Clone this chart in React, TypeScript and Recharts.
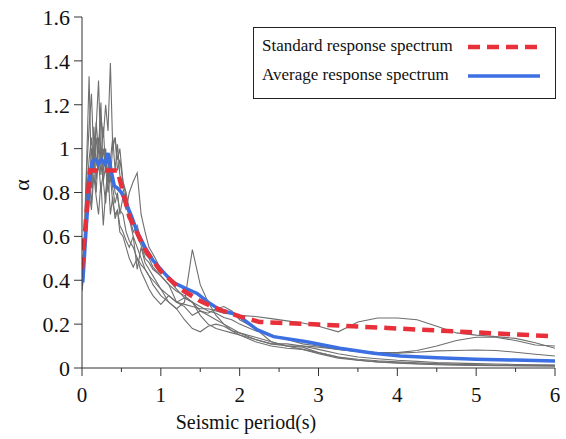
import { LineChart, Line, XAxis, YAxis, Legend } from 'recharts'

// shared period grid of the individual records (s)
const recordPeriods = [
  0, 0.03, 0.06, 0.09, 0.12, 0.15, 0.18, 0.21, 0.24, 0.27,
  0.3, 0.33, 0.36, 0.39, 0.42, 0.45, 0.48, 0.52, 0.56, 0.6,
  0.65, 0.7, 0.75, 0.8, 0.85, 0.9, 1.0, 1.1, 1.2, 1.3,
  1.4, 1.5, 1.6, 1.7, 1.8, 1.9, 2.0, 2.2, 2.4, 2.6,
  2.8, 3.0, 3.25, 3.5, 3.75, 4.0, 4.25, 4.5, 4.75, 5.0,
  5.25, 5.5, 5.75, 6.0,
]

const record1 = [
  0.38, 0.62, 0.95, 1.33, 0.85, 1.1, 0.92, 1.05, 0.88, 1.0,
  0.9, 0.95, 0.85, 0.88, 0.8, 0.78, 0.72, 0.7, 0.62, 0.58,
  0.55, 0.5, 0.47, 0.45, 0.42, 0.4, 0.36, 0.33, 0.3, 0.29,
  0.28, 0.27, 0.27, 0.26, 0.25, 0.245, 0.24, 0.235, 0.225, 0.215,
  0.205, 0.19, 0.165, 0.21, 0.228, 0.228, 0.22, 0.19, 0.16, 0.15,
  0.143, 0.135, 0.115, 0.09,
]
const record2 = [
  0.36, 0.5, 0.8, 0.95, 1.05, 0.9, 1.12, 0.98, 1.15, 1.05,
  1.2, 1.08, 1.39, 1.0, 1.05, 0.95, 1.0, 0.85, 0.8, 0.72,
  0.68, 0.6, 0.56, 0.5, 0.48, 0.45, 0.42, 0.38, 0.35, 0.33,
  0.3, 0.28, 0.26, 0.25, 0.23, 0.22, 0.2, 0.17, 0.15, 0.13,
  0.11, 0.1, 0.085, 0.075, 0.07, 0.07, 0.08, 0.1, 0.125, 0.14,
  0.14, 0.125, 0.105, 0.1,
]
const record3 = [
  0.4, 0.55, 0.85, 0.78, 1.0, 0.92, 1.1, 1.31, 0.95, 1.1,
  0.9, 0.98, 0.88, 0.82, 0.75, 0.8, 0.7, 0.78, 0.72, 0.8,
  0.85, 0.89, 0.7, 0.62, 0.55, 0.52, 0.45, 0.4, 0.36, 0.32,
  0.3, 0.26, 0.24, 0.22, 0.2, 0.18, 0.16, 0.13, 0.11, 0.1,
  0.1, 0.095, 0.085, 0.075, 0.07, 0.068, 0.072, 0.078, 0.08, 0.082,
  0.08, 0.072, 0.063, 0.055,
]
const record4 = [
  0.42, 0.58, 0.9, 1.1, 1.25, 0.95, 1.05, 0.9, 1.0, 0.85,
  0.92, 0.8, 0.88, 0.75, 0.7, 0.72, 0.65, 0.62, 0.58, 0.55,
  0.6, 0.45, 0.55, 0.48, 0.45, 0.42, 0.36, 0.3, 0.27, 0.3,
  0.54, 0.38, 0.3, 0.24, 0.2, 0.17, 0.15, 0.12, 0.1, 0.09,
  0.085, 0.07, 0.05, 0.035, 0.028, 0.022, 0.018, 0.015, 0.013, 0.012,
  0.01, 0.01, 0.009, 0.008,
]
const record5 = [
  0.35, 0.45, 0.7, 0.85, 0.75, 0.95, 0.8, 1.0, 1.21, 0.85,
  0.75, 0.9, 0.7, 0.78, 0.68, 0.72, 0.62, 0.6, 0.55, 0.5,
  0.46, 0.5, 0.44, 0.4, 0.36, 0.33, 0.29, 0.33, 0.3, 0.28,
  0.24, 0.26, 0.25, 0.27, 0.28, 0.26, 0.22, 0.18, 0.12, 0.1,
  0.095, 0.07, 0.05, 0.04, 0.033, 0.028, 0.024, 0.02, 0.017, 0.015,
  0.014, 0.013, 0.012, 0.012,
]
const record6 = [
  0.37, 0.5, 0.68, 0.8, 0.72, 0.88, 0.78, 0.7, 0.85, 0.65,
  0.8, 0.92, 0.85, 1.02, 1.05, 0.9, 0.95, 0.85, 0.78, 0.7,
  0.62, 0.65, 0.58, 0.52, 0.5, 0.46, 0.42, 0.38, 0.3, 0.32,
  0.3, 0.24, 0.2, 0.18, 0.17, 0.16, 0.15, 0.13, 0.11, 0.11,
  0.1, 0.085, 0.065, 0.05, 0.042, 0.035, 0.03, 0.025, 0.022, 0.02,
  0.018, 0.016, 0.015, 0.014,
]
const record7 = [
  0.4, 0.52, 0.78, 0.9, 0.82, 1.0, 0.86, 0.95, 0.8, 0.9,
  1.0, 0.85, 0.95, 1.05, 0.9, 1.02, 0.88, 0.82, 0.75, 0.68,
  0.6, 0.55, 0.5, 0.45, 0.42, 0.38, 0.33, 0.3, 0.27, 0.22,
  0.18, 0.165, 0.19, 0.2, 0.19, 0.17, 0.16, 0.14, 0.12, 0.1,
  0.085, 0.065, 0.045, 0.035, 0.028, 0.024, 0.02, 0.018, 0.016, 0.014,
  0.012, 0.011, 0.01, 0.01,
]
const records = [record1, record2, record3, record4, record5, record6, record7]

const standardPeriods = [0, 0.1, 0.45, 0.6, 0.8, 1.0, 1.25, 1.5, 1.75, 2.0, 2.25, 3, 4, 5, 6]
const standardValues = [0.45, 0.9, 0.9, 0.69, 0.54, 0.44, 0.36, 0.305, 0.265, 0.235, 0.21, 0.198, 0.18, 0.162, 0.144]

const averagePeriods = [
  0.01, 0.05, 0.1, 0.13, 0.17, 0.21, 0.25, 0.29, 0.33, 0.37,
  0.41, 0.45, 0.5, 0.55, 0.63, 0.7, 0.8, 0.9, 1.05, 1.16,
  1.3, 1.46, 1.6, 1.75, 1.9, 2.0, 2.22, 2.43, 2.85, 3.27,
  3.7, 4.04, 4.5, 5.0, 5.5, 6.0,
]
const averageValues = [
  0.39, 0.62, 0.88, 0.94, 0.95, 0.93, 0.95, 0.93, 0.98, 0.9,
  0.83, 0.82, 0.8, 0.76, 0.69, 0.62, 0.55, 0.49, 0.43, 0.39,
  0.365, 0.34, 0.3, 0.265, 0.25, 0.235, 0.175, 0.143, 0.12, 0.09,
  0.067, 0.055, 0.047, 0.04, 0.036, 0.032,
]

const xTicks = [0, 0.5, 1, 1.5, 2, 2.5, 3, 3.5, 4, 4.5, 5, 5.5, 6]
const yTicks = [0, 0.2, 0.4, 0.6, 0.8, 1, 1.2, 1.4, 1.6]

const STANDARD = 'Standard response spectrum'
const AVERAGE = 'Average response spectrum'
const RED = '#e8303a'
const BLUE = '#3b6fe2'
const FONT = '"Liberation Serif", "Times New Roman", serif'

const toPoints = (ts: number[], vs: number[]) => ts.map((t, i) => ({ t, v: vs[i] }))

function PeriodTick({ x, y, payload }: any) {
  const v = payload.value
  const major = Number.isInteger(v)
  return (
    <g>
      <line x1={x} x2={x} y1={y} y2={y + (major ? 8 : 4)} stroke="#333" />
      {major && (
        <text x={x} y={y + 34} textAnchor="middle" style={{ fontFamily: FONT, fontSize: 21 }} fill="#111">
          {v}
        </text>
      )}
    </g>
  )
}

function LegendBox() {
  const rows = [
    { name: STANDARD, color: RED, dash: '12 7', top: 19 },
    { name: AVERAGE, color: BLUE, dash: undefined, top: 48 },
  ]
  return (
    <div
      style={{
        position: 'relative',
        width: 303,
        height: 72,
        boxSizing: 'border-box',
        border: '1px solid #222',
        background: '#fff',
        fontFamily: FONT,
        fontSize: 17,
        color: '#111',
      }}
    >
      {rows.map((r) => (
        <div key={r.name}>
          <span style={{ position: 'absolute', left: 8, top: r.top - 11, lineHeight: '20px', whiteSpace: 'nowrap' }}>
            {r.name}
          </span>
          <svg width={72} height={8} style={{ position: 'absolute', left: 214, top: r.top - 4 }}>
            <line x1={0} x2={72} y1={4} y2={4} stroke={r.color} strokeWidth={r.dash ? 4.5 : 3.5} strokeDasharray={r.dash} />
          </svg>
        </div>
      ))}
    </div>
  )
}

export default function App() {
  return (
    <div style={{ position: 'absolute', left: 0, top: 0, width: 566, height: 439, background: '#fff' }}>
      <LineChart width={566} height={439} margin={{ top: 17, right: 11, left: 0, bottom: 0 }}>
        <XAxis
          type="number"
          dataKey="t"
          domain={[0, 6]}
          ticks={xTicks}
          allowDataOverflow
          height={71}
          tickSize={0}
          tickMargin={0}
          tickLine={false}
          tick={<PeriodTick />}
          axisLine={{ stroke: '#333' }}
        />
        <YAxis
          type="number"
          domain={[0, 1.6]}
          ticks={yTicks}
          allowDataOverflow
          width={82}
          tickSize={8}
          tickMargin={4}
          tickLine={{ stroke: '#333' }}
          axisLine={{ stroke: '#333' }}
          tickFormatter={(v: number) => String(Number(v.toFixed(1)))}
          tick={{ fontSize: 22, fill: '#111', style: { fontFamily: FONT } }}
        />
        <Legend
          layout="horizontal"
          verticalAlign="middle"
          align="center"
          wrapperStyle={{ left: 253, top: 27, width: 303, height: 72 }}
          content={() => <LegendBox />}
        />
        {records.map((vals, i) => (
          <Line
            key={`rec${i}`}
            data={toPoints(recordPeriods, vals)}
            dataKey="v"
            name={`Record ${i + 1}`}
            type="linear"
            stroke="#6f6f6f"
            strokeWidth={1.1}
            dot={false}
            isAnimationActive={false}
          />
        ))}
        <Line
          data={toPoints(averagePeriods, averageValues)}
          dataKey="v"
          name={AVERAGE}
          type="linear"
          stroke={BLUE}
          strokeWidth={3.5}
          dot={false}
          isAnimationActive={false}
        />
        <Line
          data={toPoints(standardPeriods, standardValues)}
          dataKey="v"
          name={STANDARD}
          type="linear"
          stroke={RED}
          strokeWidth={4.5}
          strokeDasharray="12 7"
          dot={false}
          isAnimationActive={false}
        />
      </LineChart>
      <div
        style={{
          position: 'absolute',
          left: 22,
          top: 185,
          transform: 'translate(-50%, -50%) rotate(-90deg)',
          fontFamily: FONT,
          fontSize: 22,
          color: '#111',
        }}
      >
        α
      </div>
      <div
        style={{
          position: 'absolute',
          left: 246,
          top: 422,
          transform: 'translate(-50%, -50%)',
          fontFamily: FONT,
          fontSize: 20,
          color: '#111',
          whiteSpace: 'nowrap',
        }}
      >
        Seismic period(s)
      </div>
    </div>
  )
}
